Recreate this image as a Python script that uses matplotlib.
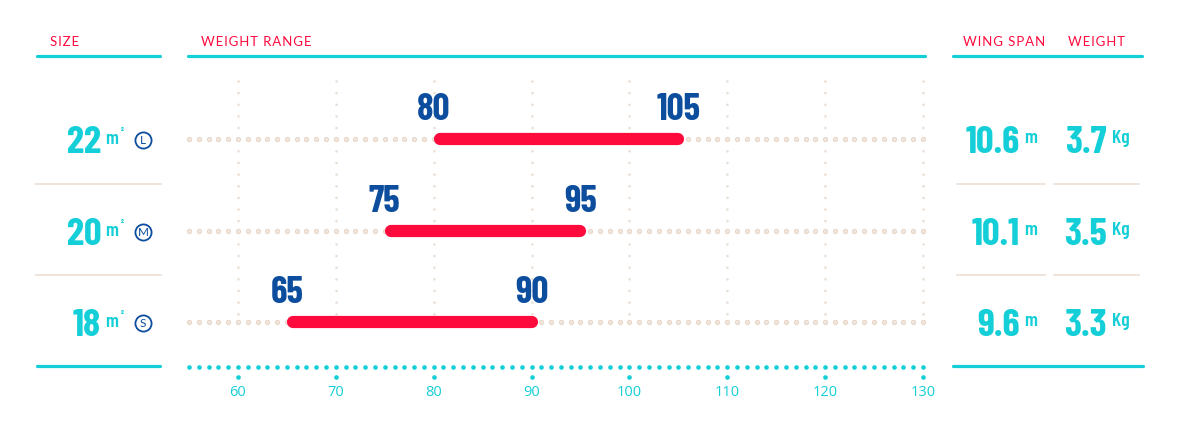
import matplotlib
matplotlib.use('Agg')
import matplotlib.pyplot as plt
from matplotlib import font_manager as fm
import numpy as np

# ---- data ----
sizes = ['22', '20', '18']
size_letters = ['L', 'M', 'S']
weight_min = [80, 75, 65]
weight_max = [105, 95, 90]
wing_span = ['10.6', '10.1', '9.6']
wing_weight = ['3.7', '3.5', '3.3']
tick_values = [60, 70, 80, 90, 100, 110, 120, 130]
axis_start, axis_end = 55, 130

CYAN = '#14cfd7'
RED = '#ff0a3c'
BLUE = '#0c4d9e'
BEIGE = '#ecdfd5'
BEIGE_V = '#e9ddd3'

fonts = fm.fontManager.ttflist


def pick(cands, weights=None):
    for c in cands:
        for f in fonts:
            if f.name == c and f.style == 'normal' and str(f.stretch) in ('normal', '500') \
                    and (weights is None or f.weight in weights or str(f.weight) in map(str, weights)):
                return c
    for c in cands:
        if any(f.name == c for f in fonts):
            return c
    return 'DejaVu Sans'


NARROW_NAME = pick(['Barlow Condensed', 'Roboto Condensed', 'Oswald', 'Fira Sans Condensed',
                    'Archivo Narrow', 'PT Sans Narrow', 'Liberation Sans Narrow'], [700, 'bold'])
NARROW = [NARROW_NAME, 'DejaVu Sans']
HEAD = [pick(['Montserrat', 'Josefin Sans', 'Lato', 'Open Sans'], [400, 'normal', 'regular']), 'DejaVu Sans']
TICK = [pick(['Open Sans', 'Noto Sans'], [400, 'normal', 'regular']), 'DejaVu Sans']

W, H = 1191, 421
fig = plt.figure(figsize=(W / 100, H / 100), dpi=100)

# pixel-layout axes for table parts
axp = fig.add_axes([0, 0, 1, 1])
axp.set_xlim(0, W)
axp.set_ylim(H, 0)
axp.axis('off')

# data axes for weight range
ax = fig.add_axes([0, 0, 1, 1])
ax.patch.set_alpha(0)
px_per = (923 - 238) / 70.0
ax.set_xlim(60 - 238 / px_per, 60 + (W - 238) / px_per)
ax.set_ylim(H, 0)
ax.axis('off')

row_y = [139, 231, 322]


# ---- headers ----
def spaced(s):
    return '\u200a'.join(s)


hdr = dict(color=RED, fontsize=9.5, family=HEAD, va='baseline', ha='left', fontweight='normal')
axp.text(50, 46, spaced('SIZE'), **hdr)
axp.text(201, 46, spaced('WEIGHT RANGE'), **hdr)
axp.text(963, 46, spaced('WING SPAN'), **hdr)
axp.text(1068, 46, spaced('WEIGHT'), **hdr)

lkw = dict(color=CYAN, lw=2.3, solid_capstyle='round')
axp.plot([37, 160], [55.5, 55.5], **lkw)
axp.plot([188, 925], [55.5, 55.5], **lkw)
axp.plot([953, 1142], [55.5, 55.5], **lkw)
axp.plot([37, 160], [366, 366], **lkw)
axp.plot([953, 1143], [366, 366], **lkw)

# separators
skw = dict(color=BEIGE, lw=1.2)
for sy in [184, 275]:
    axp.plot([36, 161], [sy, sy], **skw)
    axp.plot([957, 1045], [sy, sy], **skw)
    axp.plot([1054, 1139], [sy, sy], **skw)

# ---- grid ----
ax.vlines(tick_values, 81, row_y[-1], colors=BEIGE_V, lw=1.9,
          linestyles=[(0, (0.01, 4.4))], capstyle='round')
grid_x = np.arange(axis_start, axis_end + 1)
for ry in row_y:
    ax.scatter(grid_x, np.full(len(grid_x), ry), s=10, color='#f1e6de',
               edgecolors='#e4d3c6', linewidths=0.6, zorder=2)

# bottom axis dots
ax.scatter(grid_x, np.full(len(grid_x), 366.7), s=11, color=CYAN, lw=0, zorder=3)
ax.scatter(tick_values, np.full(len(tick_values), 376.7), s=11, color=CYAN, lw=0, zorder=3)
for t in tick_values:
    ax.text(t, 393, str(t), ha='center', va='center', fontsize=10.5,
            family=TICK, color=CYAN)

# ---- bars ----
for ry, lo, hi in zip(row_y, weight_min, weight_max):
    ax.plot([lo + 0.6, hi], [ry, ry], color=RED, lw=8.8,
            solid_capstyle='round', zorder=4)
    for v in (lo, hi):
        ax.text(v, ry - 19, str(v), ha='center', va='baseline', fontsize=27,
                fontweight='bold', family=NARROW, color=BLUE, zorder=5)

# ---- size column ----
for ry, s, letter in zip(row_y, sizes, size_letters):
    axp.text(101, ry + 14, s, ha='right', va='baseline', fontsize=28,
             fontweight='bold', family=NARROW, color=CYAN)
    axp.text(105, ry + 5, 'm', ha='left', va='baseline', fontsize=14,
             fontweight='semibold', family=NARROW, color=CYAN)
    axp.text(120.5, ry - 3, '²', ha='left', va='baseline', fontsize=8,
             fontweight='bold', family=NARROW, color=CYAN)
    axp.scatter([143], [ry + 1], s=135, facecolors='white', edgecolors=BLUE,
                linewidths=1.3, zorder=3)
    axp.text(143, ry + 1.5, letter, ha='center', va='center', fontsize=8.5,
             family=HEAD, fontweight='normal', color=BLUE, zorder=4)

# ---- right columns ----
for ry, ws, ww in zip(row_y, wing_span, wing_weight):
    axp.text(1020, ry + 14, ws, ha='right', va='baseline', fontsize=28,
             fontweight='bold', family=NARROW, color=CYAN)
    axp.text(1024, ry + 4, 'm', ha='left', va='baseline', fontsize=14,
             fontweight='semibold', family=NARROW, color=CYAN)
    axp.text(1107, ry + 14, ww, ha='right', va='baseline', fontsize=28,
             fontweight='bold', family=NARROW, color=CYAN)
    axp.text(1112, ry + 4, 'Kg', ha='left', va='baseline', fontsize=14,
             fontweight='semibold', family=NARROW, color=CYAN)

fig.savefig('out.png', dpi=100)
